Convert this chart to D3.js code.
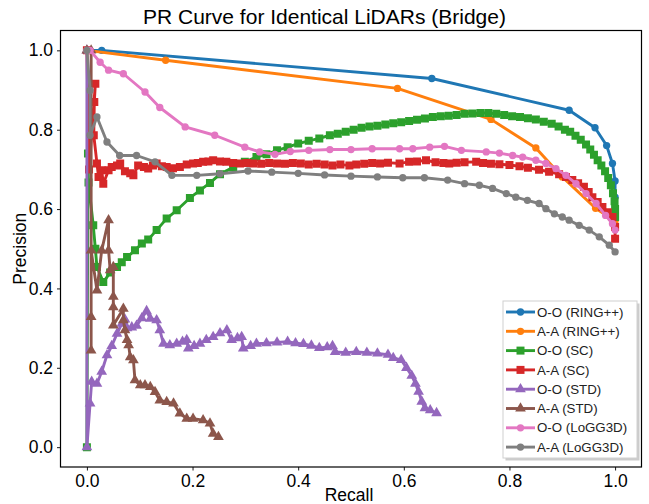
<!DOCTYPE html>
<html><head><meta charset="utf-8">
<script src="https://cdn.jsdelivr.net/npm/d3@7"></script>
<style>body{margin:0;background:#fff}svg{display:block}text{font-family:"Liberation Sans",Arial,sans-serif}</style>
</head><body><div id="chart"></div>
<script>
const seriesNames = ["O-O (RING++)","A-A (RING++)","O-O (SC)","A-A (SC)","O-O (STD)","A-A (STD)","O-O (LoGG3D)","A-A (LoGG3D)"];
const seriesColors = ["#1f77b4","#ff7f0e","#2ca02c","#d62728","#9467bd","#8c564b","#e377c2","#7f7f7f"];
const seriesMarkers = ["circle","circle","square","square","triangle","triangle","circle","circle"];
const xTicks = [0,0.2,0.4,0.6,0.8,1.0];
const yTicks = [0,0.2,0.4,0.6,0.8,1.0];

const ooRing = [[0,1],[0.028,1.0],[0.653,0.929],[0.913,0.849],[0.962,0.805],[0.984,0.76],[0.995,0.715],[1.0,0.671],[1.0,0.63]];
const aaRing = [[0,1],[0.149,0.975],[0.588,0.904],[0.765,0.826],[0.85,0.754],[0.90,0.681],[0.963,0.602],[1.0,0.57]];
const ooSC = [[0,0],[0.002,0.74],[0.003,0.667],[0.012,0.559],[0.016,0.50],[0.019,0.454],[0.031,0.416],[0.044,0.44],[0.057,0.454],[0.066,0.466],[0.076,0.479],[0.091,0.496],[0.104,0.513],[0.116,0.523],[0.132,0.547],[0.151,0.576],[0.170,0.597],[0.195,0.628],[0.214,0.647],[0.233,0.666],[0.252,0.688],[0.277,0.705],[0.299,0.719],[0.321,0.731],[0.34,0.738],[0.36,0.748],[0.38,0.756],[0.40,0.765],[0.42,0.772],[0.44,0.778],[0.46,0.786],[0.475,0.79],[0.49,0.795],[0.505,0.80],[0.52,0.805],[0.535,0.808],[0.55,0.81],[0.565,0.813],[0.58,0.816],[0.595,0.819],[0.61,0.822],[0.625,0.825],[0.64,0.828],[0.655,0.832],[0.67,0.834],[0.685,0.835],[0.70,0.837],[0.715,0.84],[0.73,0.841],[0.745,0.842],[0.76,0.842],[0.775,0.84],[0.79,0.837],[0.805,0.834],[0.82,0.832],[0.835,0.829],[0.85,0.826],[0.865,0.82],[0.88,0.815],[0.893,0.808],[0.905,0.80],[0.915,0.795],[0.925,0.785],[0.935,0.775],[0.945,0.763],[0.953,0.75],[0.96,0.737],[0.967,0.723],[0.974,0.71],[0.981,0.695],[0.987,0.678],[0.992,0.66],[0.996,0.64],[0.999,0.62],[1.0,0.6],[1.0,0.58]];
const aaSC = [[0,1],[0.004,0.70],[0.016,0.916],[0.014,0.87],[0.013,0.786],[0.019,0.715],[0.022,0.681],[0.028,0.698],[0.031,0.664],[0.041,0.698],[0.047,0.706],[0.057,0.71],[0.063,0.715],[0.072,0.695],[0.082,0.69],[0.088,0.685],[0.097,0.71],[0.108,0.706],[0.116,0.702],[0.125,0.71],[0.132,0.715],[0.142,0.708],[0.151,0.706],[0.163,0.703],[0.176,0.706],[0.189,0.712],[0.201,0.715],[0.21,0.716],[0.22,0.719],[0.23,0.72],[0.239,0.723],[0.252,0.72],[0.264,0.719],[0.277,0.716],[0.29,0.715],[0.303,0.716],[0.315,0.715],[0.33,0.714],[0.345,0.716],[0.36,0.715],[0.375,0.714],[0.39,0.716],[0.405,0.715],[0.42,0.712],[0.435,0.714],[0.45,0.712],[0.465,0.71],[0.48,0.712],[0.497,0.71],[0.51,0.712],[0.525,0.714],[0.54,0.716],[0.555,0.715],[0.57,0.717],[0.592,0.715],[0.61,0.719],[0.625,0.72],[0.642,0.723],[0.66,0.718],[0.675,0.716],[0.686,0.715],[0.70,0.717],[0.715,0.718],[0.737,0.719],[0.75,0.716],[0.765,0.714],[0.781,0.713],[0.80,0.711],[0.819,0.708],[0.835,0.704],[0.856,0.699],[0.875,0.694],[0.894,0.688],[0.907,0.681],[0.919,0.673],[0.93,0.665],[0.941,0.656],[0.95,0.643],[0.957,0.63],[0.967,0.618],[0.976,0.605],[0.986,0.592],[0.995,0.58],[1.0,0.555],[1.0,0.525]];
const ooSTD = [[0,1],[0,0],[0.006,0.11],[0.009,0.165],[0.019,0.16],[0.028,0.19],[0.038,0.232],[0.047,0.255],[0.057,0.286],[0.066,0.311],[0.072,0.322],[0.076,0.3],[0.085,0.302],[0.094,0.306],[0.104,0.325],[0.113,0.343],[0.120,0.324],[0.132,0.32],[0.138,0.295],[0.145,0.261],[0.157,0.257],[0.170,0.261],[0.181,0.266],[0.189,0.27],[0.192,0.249],[0.203,0.255],[0.214,0.261],[0.226,0.27],[0.239,0.278],[0.252,0.287],[0.265,0.295],[0.274,0.27],[0.285,0.275],[0.293,0.278],[0.296,0.249],[0.31,0.255],[0.321,0.261],[0.34,0.262],[0.36,0.264],[0.38,0.266],[0.395,0.262],[0.41,0.26],[0.425,0.256],[0.44,0.25],[0.455,0.252],[0.465,0.255],[0.47,0.24],[0.49,0.238],[0.51,0.24],[0.53,0.238],[0.55,0.236],[0.57,0.233],[0.58,0.225],[0.595,0.22],[0.605,0.2],[0.615,0.18],[0.622,0.16],[0.628,0.14],[0.634,0.115],[0.64,0.098],[0.65,0.093],[0.662,0.086]];
const aaSTD = [[0,1],[0.008,1.0],[0.008,0.244],[0.008,0.328],[0.008,0.496],[0.019,0.395],[0.028,0.496],[0.041,0.572],[0.041,0.496],[0.044,0.446],[0.05,0.454],[0.05,0.379],[0.05,0.353],[0.05,0.307],[0.069,0.349],[0.069,0.32],[0.072,0.295],[0.076,0.27],[0.079,0.257],[0.082,0.227],[0.088,0.219],[0.091,0.169],[0.101,0.156],[0.11,0.156],[0.12,0.152],[0.129,0.139],[0.138,0.118],[0.151,0.114],[0.164,0.11],[0.176,0.085],[0.189,0.072],[0.201,0.072],[0.22,0.068],[0.233,0.06],[0.239,0.034],[0.249,0.026]];
const ooLoG = [[0,1],[0.006,1.0],[0.025,0.97],[0.041,0.95],[0.069,0.941],[0.110,0.895],[0.138,0.856],[0.186,0.807],[0.242,0.786],[0.299,0.756],[0.327,0.744],[0.356,0.738],[0.385,0.745],[0.42,0.748],[0.46,0.75],[0.50,0.75],[0.54,0.752],[0.592,0.752],[0.617,0.752],[0.649,0.756],[0.677,0.758],[0.709,0.748],[0.756,0.744],[0.781,0.741],[0.806,0.735],[0.825,0.731],[0.85,0.723],[0.869,0.715],[0.888,0.702],[0.907,0.685],[0.926,0.664],[0.945,0.639],[0.964,0.614],[0.982,0.584],[0.995,0.563],[1.0,0.547]];
const aaLoG = [[0,1],[0.006,0.899],[0.006,0.786],[0.019,0.832],[0.038,0.769],[0.062,0.735],[0.094,0.735],[0.129,0.719],[0.161,0.685],[0.208,0.685],[0.252,0.689],[0.305,0.696],[0.35,0.693],[0.40,0.69],[0.45,0.686],[0.50,0.683],[0.55,0.681],[0.598,0.679],[0.639,0.679],[0.683,0.673],[0.715,0.664],[0.743,0.66],[0.768,0.652],[0.794,0.639],[0.812,0.63],[0.834,0.622],[0.856,0.614],[0.869,0.601],[0.885,0.588],[0.90,0.58],[0.913,0.572],[0.932,0.559],[0.951,0.547],[0.97,0.53],[0.989,0.509],[1.0,0.492]];
const seriesData = [ooRing, aaRing, ooSC, aaSC, ooSTD, aaSTD, ooLoG, aaLoG];

const W = 649, H = 504;
const L = 60.5, R = 641.5, T = 30.5, B = 467;
const svg = d3.select("#chart").append("svg").attr("width", W).attr("height", H);
const x = d3.scaleLinear().domain([-0.05, 1.05]).range([L, R]);
const y = d3.scaleLinear().domain([-0.05, 1.05]).range([B, T]);

svg.append("clipPath").attr("id","clip").append("rect").attr("x",L).attr("y",T).attr("width",R-L).attr("height",B-T);
const plot = svg.append("g").attr("clip-path","url(#clip)");

const symType = {circle: d3.symbolCircle, square: d3.symbolSquare, triangle: d3.symbolTriangle};
const symSize = {circle: 42, square: 64, triangle: 50};
const line = d3.line().x(d => x(d[0])).y(d => y(d[1]));

seriesData.forEach((data, i) => {
  const g = plot.append("g");
  g.append("path").datum(data).attr("d", line).attr("fill","none")
    .attr("stroke", seriesColors[i]).attr("stroke-width", 2.9).attr("stroke-linejoin","round");
  const sym = d3.symbol().type(symType[seriesMarkers[i]]).size(symSize[seriesMarkers[i]]);
  g.selectAll("path.m").data(data).enter().append("path").attr("class","m")
    .attr("transform", d => `translate(${x(d[0])},${y(d[1])})`)
    .attr("d", sym).attr("fill", seriesColors[i]);
});

svg.append("rect").attr("x",L).attr("y",T).attr("width",R-L).attr("height",B-T)
  .attr("fill","none").attr("stroke","#000").attr("stroke-width",1.2);

const xAxis = svg.append("g").attr("transform",`translate(0,${B})`)
  .call(d3.axisBottom(x).tickValues(xTicks).tickFormat(d3.format(".1f")).tickSize(3.5).tickPadding(4));
const yAxis = svg.append("g").attr("transform",`translate(${L},0)`)
  .call(d3.axisLeft(y).tickValues(yTicks).tickFormat(d3.format(".1f")).tickSize(3.5).tickPadding(4));
[xAxis, yAxis].forEach(a => {
  a.select(".domain").remove();
  a.selectAll("text").attr("font-size", 17.5).attr("fill","#000").style("font-family",'"Liberation Sans",Arial,sans-serif');
  a.selectAll("line").attr("stroke","#000").attr("stroke-width",0.9);
});

svg.append("text").attr("x", (L+R)/2 - 2).attr("y", 501).attr("text-anchor","middle")
  .attr("font-size", 17.5).text("Recall");
svg.append("text").attr("transform", `translate(26,${(T+B)/2}) rotate(-90)`).attr("text-anchor","middle")
  .attr("font-size", 17.5).text("Precision");
svg.append("text").attr("x", 324.5).attr("y", 24).attr("text-anchor","middle")
  .attr("font-size", 21).text("PR Curve for Identical LiDARs (Bridge)");

const lg = svg.append("g");
const lx = 503, ly = 301, lw = 134, lh = 157;
lg.append("rect").attr("x",lx+2.5).attr("y",ly+2.5).attr("width",lw).attr("height",lh).attr("fill","#aaa").attr("opacity",0.6);
lg.append("rect").attr("x",lx).attr("y",ly).attr("width",lw).attr("height",lh).attr("fill","#fff").attr("stroke","#d0d0d0").attr("stroke-width",1);
seriesNames.forEach((name, i) => {
  const cy = ly + 11 + i * 19.3;
  lg.append("line").attr("x1", lx+3).attr("x2", lx+32).attr("y1", cy).attr("y2", cy)
    .attr("stroke", seriesColors[i]).attr("stroke-width", 2.9);
  lg.append("path").attr("transform", `translate(${lx+17.5},${cy})`)
    .attr("d", d3.symbol().type(symType[seriesMarkers[i]]).size(symSize[seriesMarkers[i]])()).attr("fill", seriesColors[i]);
  lg.append("text").attr("x", lx+34).attr("y", cy + 4.6).attr("font-size", 13.3).attr("fill","#222").text(name);
});
</script></body></html>
